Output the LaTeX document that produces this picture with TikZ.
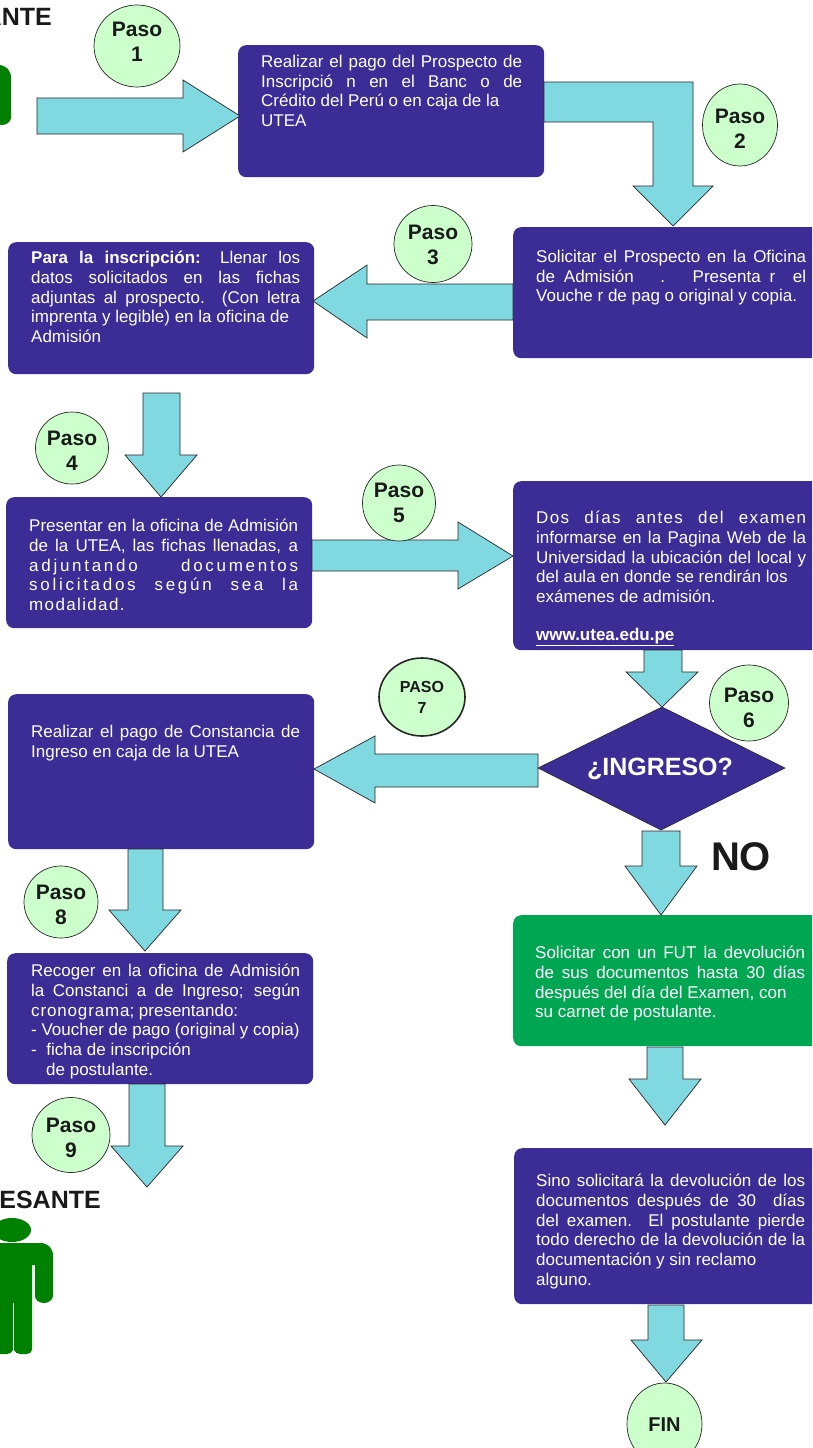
\documentclass[tikz,border=0pt]{standalone}
\usepackage{fontspec}
\setmainfont{Liberation Sans}
\usetikzlibrary{shapes.geometric}
\definecolor{boxblue}{HTML}{3C2C96}
\definecolor{boxgreen}{HTML}{00A651}
\definecolor{arrowcyan}{HTML}{80D8E0}
\definecolor{stepgreen}{HTML}{CCFFCC}
\definecolor{persongreen}{HTML}{008000}
\definecolor{inkdark}{HTML}{1A1A1A}
\tikzset{
  x=1pt,y=-1pt,
  flowbox/.style={draw=none,fill=boxblue,rounded corners=8pt,inner sep=0pt,anchor=north west},
  greenbox/.style={flowbox,fill=boxgreen},
  flowtext/.style={anchor=north west,inner sep=0pt,text=white,align=justify,
     font=\fontsize{17}{19.7}\selectfont},
  blockarrow/.style={draw=black!85,line width=0.7pt,fill=arrowcyan,line join=miter},
  stepmark/.style={ellipse,draw=black!85,line width=0.7pt,fill=stepgreen,inner sep=0pt},
  steptext/.style={inner sep=0pt,align=center,text=inkdark,font=\fontsize{21}{24.5}\selectfont\bfseries},
  heading/.style={inner sep=0pt,text=inkdark,font=\fontsize{25}{28}\selectfont\bfseries},
}
% vertical block arrow: xl xr ytop yhead xheadl xheadr xtip ytip
\newcommand{\vertarrow}[8]{\draw[blockarrow] (#1,#3)--(#2,#3)--(#2,#4)--(#6,#4)--(#7,#8)--(#5,#4)--(#1,#4)--cycle;}
% horizontal: xtail yt yb xhead yhead-top yhead-bot xtip ytip
\newcommand{\sidearrow}[8]{\draw[blockarrow] (#1,#2)--(#4,#2)--(#4,#5)--(#7,#8)--(#4,#6)--(#4,#3)--(#1,#3)--cycle;}
\newcommand{\personfig}{%
  \fill[persongreen] (12,1230) ellipse [x radius=19,y radius=12];
  \fill[persongreen] (-20,1243) -- (40,1243) .. controls (48,1243) and (53,1248) .. (53,1256)
    -- (53,1296) .. controls (53,1300) and (48,1303) .. (44,1303) .. controls (39,1303) and (35,1300) .. (35,1296)
    -- (35,1265) -- (32,1265) -- (32,1348) .. controls (32,1352) and (30,1354) .. (27,1354)
    -- (20,1354) .. controls (17,1354) and (15,1352) .. (14,1350) -- (14,1303) -- (13,1303) -- (13,1350)
    .. controls (12,1352) and (10,1354) .. (7,1354) -- (-20,1354) -- cycle;
}
\begin{document}
\begin{tikzpicture}
\useasboundingbox (0,0) rectangle (812,1448);
\clip (0,0) rectangle (812,1448);
\fill[white] (0,0) rectangle (812,1448);

% persons and headings
\begin{scope}[yshift=1178pt,xshift=-42pt]
\personfig
\end{scope}
\personfig
\node[heading,anchor=base east] (topname) at (52,25) {ANTE};
\node[heading,anchor=base east] (botname) at (101,1208) {ESANTE};

% boxes
\node[flowbox,minimum width=306,minimum height=132] (b1) at (238,45) {};
\node[flowbox,minimum width=320,minimum height=131] (b2) at (513,227) {};
\node[flowbox,minimum width=306,minimum height=132] (b3) at (8,242) {};
\node[flowbox,minimum width=306,minimum height=131] (b4) at (6,497) {};
\node[flowbox,minimum width=320,minimum height=169] (b5) at (513,481) {};
\node[flowbox,minimum width=306,minimum height=155] (b6) at (8,694) {};
\node[flowbox,minimum width=306,minimum height=131] (b7) at (7,953) {};
\node[greenbox,minimum width=320,minimum height=131] (b8) at (513,915) {};
\node[flowbox,minimum width=320,minimum height=156] (b9) at (514,1148) {};

% decision
\draw[draw=black!85,line width=0.6pt,fill=boxblue] (538,768)--(662,707)--(785,768)--(661,830)--cycle;
\node[inner sep=0pt,text=white,font=\fontsize{25}{28}\selectfont\bfseries] (dec) at (660,769) {¿INGRESO?};

% arrows
\sidearrow{37}{98}{134}{183}{80}{152}{240}{116}
\draw[blockarrow] (544,82)--(693,82)--(693,186)--(713,186)--(673,226)--(633,186)--(653,186)--(653,122)--(544,122)--cycle;
\sidearrow{513}{284}{320}{367}{265}{338}{313}{301}
\vertarrow{143}{180}{393}{455}{125}{197}{161}{497}
\sidearrow{312}{540}{571}{458}{522}{589}{513}{556}
\vertarrow{644}{682}{650}{672}{626}{698}{662}{707}
\sidearrow{538}{754}{787}{375}{736}{803}{314}{769}
\vertarrow{128}{163}{849}{910}{109}{181}{145}{951}
\vertarrow{642}{680}{831}{866}{625}{697}{661}{915}
\vertarrow{647}{683}{1047}{1079}{629}{701}{665}{1125}
\vertarrow{129}{165}{1084}{1146}{111}{183}{147}{1187}
\vertarrow{648}{684}{1305}{1340}{631}{702}{666}{1382}

% step marks
\node[stepmark,minimum width=86,minimum height=82,label={[steptext,yshift=4pt]center:Paso\\1}] (p1) at (137,46) {};
\node[stepmark,minimum width=75,minimum height=82,label={[steptext,yshift=-4pt]center:Paso\\2}] (p2) at (740,125) {};
\node[stepmark,minimum width=78,minimum height=77,label={[steptext,yshift=-1pt]center:Paso\\3}] (p3) at (433,244) {};
\node[stepmark,minimum width=73,minimum height=72,label={[steptext,yshift=-3pt]center:Paso\\4}] (p4) at (72,448) {};
\node[stepmark,minimum width=73,minimum height=76,label={[steptext]center:Paso\\5}] (p5) at (399,503) {};
\node[stepmark,minimum width=79,minimum height=76,label={[steptext,yshift=-5pt]center:Paso\\6}] (p6) at (749,703) {};
\node[stepmark,line width=1.6pt,minimum width=86,minimum height=78,label={[steptext,font=\fontsize{16}{21}\selectfont\bfseries]center:PASO\\7}] (p7) at (422,697) {};
\node[stepmark,minimum width=74,minimum height=72,label={[steptext,yshift=-3pt]center:Paso\\8}] (p8) at (61,902) {};
\node[stepmark,minimum width=78,minimum height=75,label={[steptext,yshift=-3pt]center:Paso\\9}] (p9) at (71,1135) {};
\node[stepmark,minimum width=75,minimum height=82,label={[steptext,yshift=-1pt,font=\fontsize{20}{25}\selectfont\bfseries]center:FIN}] (fin) at (664.5,1424) {};

\node[inner sep=0pt,text=inkdark,font=\fontsize{40}{44}\selectfont\bfseries] (no) at (741,857) {NO};

% texts
\node[flowtext,text width=261] (t1) at (261,55) {Realizar el pago del Prospecto de\linebreak
Inscripció n en el Banc o de\linebreak
Crédito del Perú o en caja de la\newline UTEA};
\node[flowtext,text width=270] (t2) at (536,250) {Solicitar el Prospecto en la Oficina\linebreak
de Admisión \ \ . \ Presenta r \ el\linebreak
Vouche r de pag o original y copia.};
\node[flowtext,text width=269] (t3) at (31,251) {\textbf{Para la inscripción:} Llenar los\linebreak
datos solicitados en las fichas\linebreak
adjuntas al prospecto. (Con letra\linebreak
imprenta y legible) en la oficina de\newline Admisión};
\node[flowtext,text width=269] (t4) at (29,519) {Presentar en la oficina de Admisión\linebreak
de la UTEA, las fichas llenadas, a\linebreak
{\addfontfeatures{LetterSpace=16}adjuntando documentos}\linebreak
{\addfontfeatures{LetterSpace=16}solicitados según sea la}\linebreak
{\addfontfeatures{LetterSpace=8}modalidad.}};
\node[flowtext,text width=270] (t5) at (536,511) {{\addfontfeatures{LetterSpace=8}Dos días antes del examen}\linebreak
informarse en la Pagina Web de la\linebreak
Universidad la ubicación del local y\linebreak
del aula en donde se rendirán los\newline
exámenes de admisión.\\[18pt]
\textbf{\underline{www.utea.edu.pe}}};
\node[flowtext,text width=269] (t6) at (31,725) {Realizar el pago de Constancia de\linebreak
Ingreso en caja de la UTEA};
\node[flowtext,text width=269] (t7) at (31,964) {Recoger en la oficina de Admisión\linebreak
la Constanci a de Ingreso; según\linebreak
{\addfontfeatures{LetterSpace=5}cronograma}; presentando:\newline
- Voucher de pago (original y copia)\newline
-\ \ ficha de inscripción\newline
\hspace*{15pt}de postulante.};
\node[flowtext,text width=270] (t8) at (535,946) {Solicitar con un FUT la devolución\linebreak
de sus documentos hasta 30 días\linebreak
después del día del Examen, con\newline
su carnet de postulante.};
\node[flowtext,text width=269] (t9) at (536,1174) {Sino solicitará la devolución de los\linebreak
documentos después de 30 \ días\linebreak
del examen. El postulante pierde\linebreak
todo derecho de la devolución de la\linebreak
documentación y sin reclamo\newline
alguno.};
\end{tikzpicture}
\end{document}
